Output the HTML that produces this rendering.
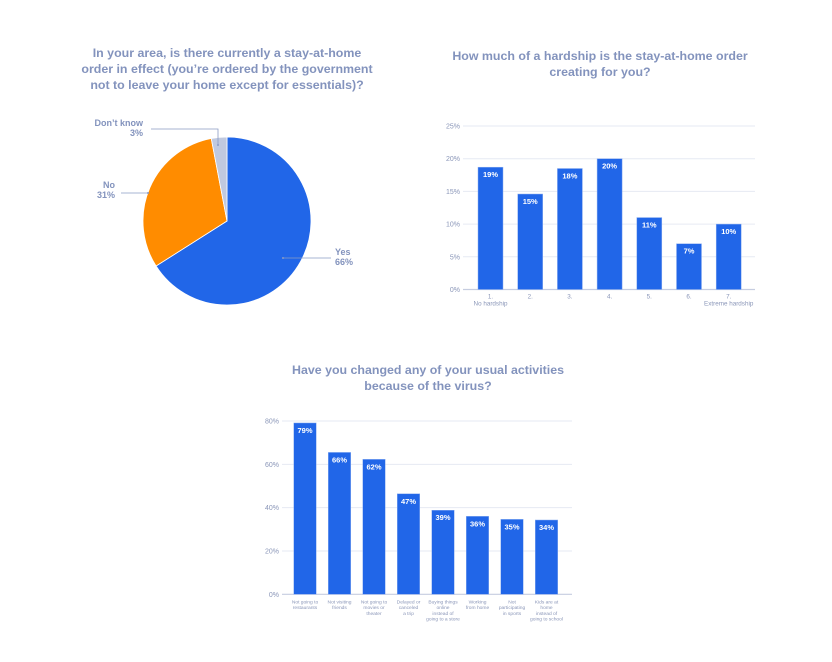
<!DOCTYPE html>
<html><head><meta charset="utf-8"><style>
body{margin:0;background:#fff;width:832px;height:662px;overflow:hidden;font-family:"Liberation Sans",sans-serif}
svg{position:absolute;left:0;top:0}
.t{font-weight:bold;font-size:12.4px;fill:#8393bd;text-anchor:middle}
.ax{font-size:7px;fill:#8a96b8}
.lb{fill:#8a96b8;text-anchor:middle}
.v{font-size:7.5px;font-weight:bold;fill:#fff;text-anchor:middle}
.pl{font-size:9px;font-weight:bold;fill:#8393bd}
</style></head><body>
<svg width="832" height="662" id="s">
<text class="t" x="227" y="57">In your area, is there currently a stay-at-home</text>
<text class="t" x="227" y="73">order in effect (you’re ordered by the government</text>
<text class="t" x="227" y="89">not to leave your home except for essentials)?</text>
<text class="t" x="600" y="60">How much of a hardship is the stay-at-home order</text>
<text class="t" x="600" y="76">creating for you?</text>
<text class="t" x="428" y="374">Have you changed any of your usual activities</text>
<text class="t" x="428" y="390">because of the virus?</text>
<g id="pie"></g>
<g id="c2"></g>
<g id="c3"></g>
</svg>
<script>
const pieLabels=["Yes","No","Don't know"];
const pieValues=[66,31,3];
const hardCats=[["1.","No hardship"],["2."],["3."],["4."],["5."],["6."],["7.","Extreme hardship"]];
const hardValues=[18.7,14.6,18.5,20,11,7,10];
const hardLabels=["19%","15%","18%","20%","11%","7%","10%"];
const hardTicks=[0,5,10,15,20,25];
const actCats=[["Not going to","restaurants"],["Not visiting","friends"],["Not going to","movies or","theater"],["Delayed or","canceled","a trip"],["Buying things","online","instead of","going to a store"],["Working","from home"],["Not","participating","in sports"],["Kids are at","home","instead of","going to school"]];
const actValues=[79.1,65.5,62.3,46.4,38.8,36,34.6,34.3];
const actLabels=["79%","66%","62%","47%","39%","36%","35%","34%"];
const actTicks=[0,20,40,60,80];
const NS="http://www.w3.org/2000/svg";
function mk(p,t,a,txt){const e=document.createElementNS(NS,t);for(const k in a)e.setAttribute(k,a[k]);if(txt!=null)e.textContent=txt;p.appendChild(e);return e;}
(function(){
 const g=document.getElementById('pie');const cx=227,cy=221,r=84;
 const cols=["#2166e8","#ff8c00","#c0c9df"];
 const tot=pieValues.reduce((a,b)=>a+b,0);let a0=0;
 const lblPos=[[335,255,"start",283,258],[115,188,"end",148,193],[143,126,"end",218,140]];
 pieValues.forEach((v,i)=>{
  const a1=a0+v/tot*2*Math.PI;
  const x0=cx+r*Math.sin(a0),y0=cy-r*Math.cos(a0),x1=cx+r*Math.sin(a1),y1=cy-r*Math.cos(a1);
  const s=mk(g,'path',{d:`M${cx},${cy}L${x0},${y0}A${r},${r} 0 ${a1-a0>Math.PI?1:0} 1 ${x1},${y1}Z`,fill:cols[i],stroke:'#fff','stroke-width':0.8});
  
  
  const L=lblPos[i];
  if(i===2){mk(g,'path',{d:`M${L[0]+8},${129}H218V${L[4]+5}`,fill:'none',stroke:'#8a9bc4','stroke-width':0.8});}
  else mk(g,'line',{x1:i==0?L[3]:L[0]+6,x2:i==0?L[0]-4:L[3],y1:L[4],y2:L[4],stroke:'#8a9bc4','stroke-width':0.8});
  mk(g,'circle',{cx:i==2?218:L[3],cy:i==2?L[4]+5:L[4],r:1,fill:'#8a9bc4'});
  const t1=mk(g,'text',{class:'pl',x:L[0],y:L[1],'text-anchor':L[2]},pieLabels[i]==="Don't know"?"Don’t know":pieLabels[i]);
  
  mk(g,'text',{class:'pl',x:L[0],y:L[1]+10,'text-anchor':L[2]},v+'%');
  a0=a1;
 });
})();
function bars(id,cats,vals,labs,ticks,o){
 const g=document.getElementById(id);
 const y=v=>o.y0-(v-ticks[0])/(ticks[ticks.length-1]-ticks[0])*(o.y0-o.y1);
 ticks.forEach(t=>{
  const l=mk(g,'line',{x1:o.xl,x2:o.xr,y1:y(t),y2:y(t),stroke:t===0?'#c6cde0':'#e6eaf3','stroke-width':t===0?1.2:1});
  
  const tx=mk(g,'text',{class:'ax',x:o.xl-3,y:y(t)+2.5,'text-anchor':'end'},t+'%');
  
 });
 vals.forEach((v,i)=>{
  const cx=o.c0+i*o.step;
  const b=mk(g,'rect',{x:cx-o.w/2,y:y(v),width:o.w,height:y(0)-y(v),fill:'#2166e8',stroke:'#8fb0f0','stroke-width':0.5});
  
  const vl=mk(g,'text',{class:'v',x:cx,y:y(v)+10},labs[i]);
  
  cats[i].forEach((s,j)=>{
   const ct=mk(g,'text',{class:'lb',x:cx,y:y(0)+9+j*o.lh,style:'font-size:'+o.fs+'px'},s);
   
  });
 });
}
bars('c2',hardCats,hardValues,hardLabels,hardTicks,{y0:289.5,y1:126,xl:463,xr:755,c0:490.5,step:39.7,w:25,lh:7,fs:6.3});
bars('c3',actCats,actValues,actLabels,actTicks,{y0:594.3,y1:421,xl:282,xr:572,c0:305,step:34.5,w:22.5,lh:5.8,fs:4.9});
</script>
</body></html>
